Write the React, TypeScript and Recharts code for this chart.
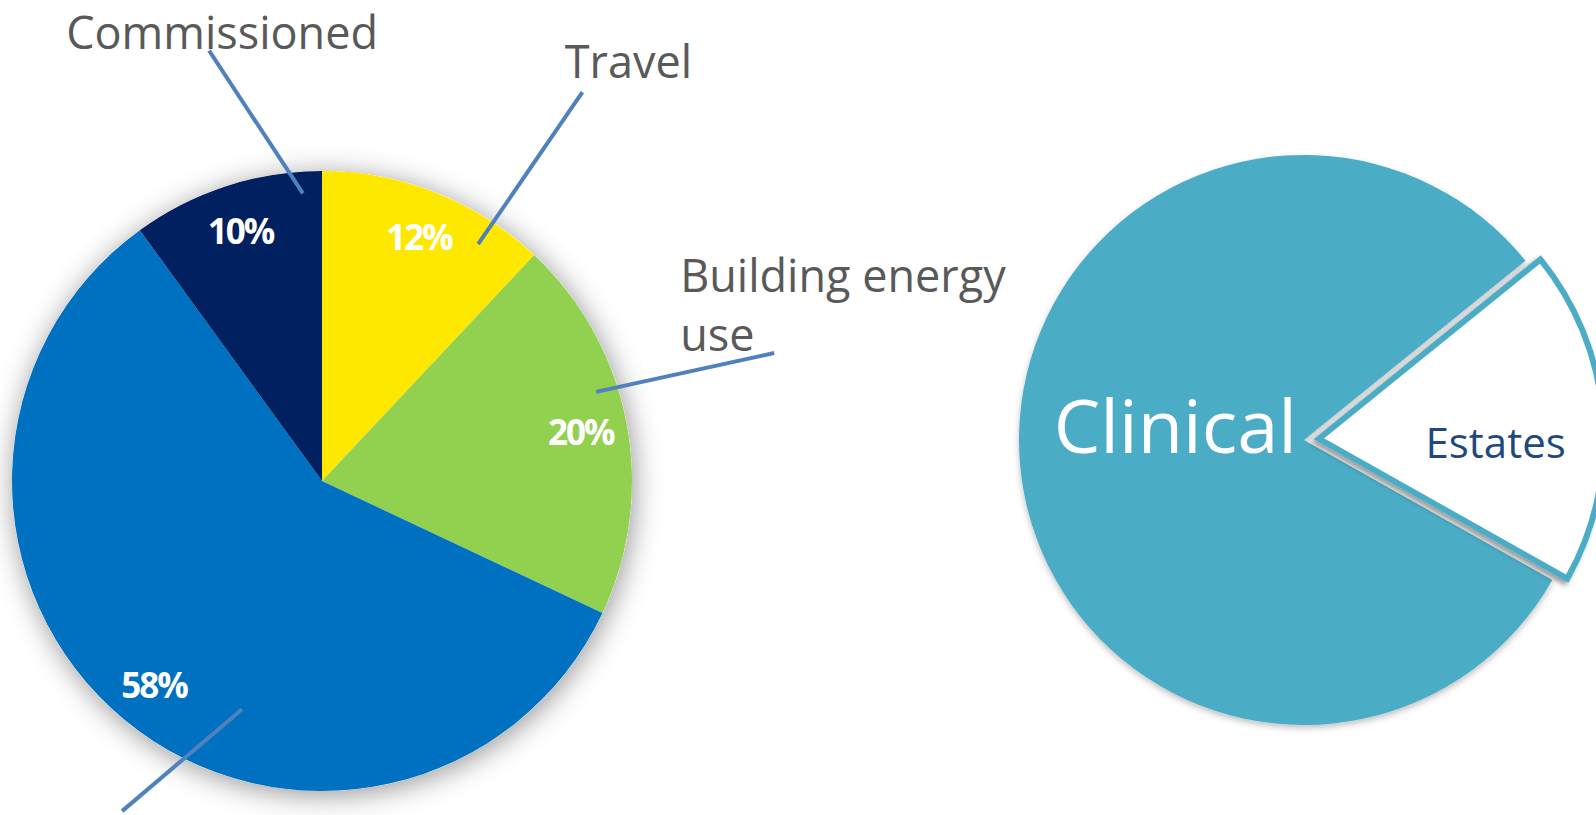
import React from 'react';
import { PieChart, Pie, Cell } from 'recharts';

// Carbon footprint split (left pie), clockwise from 12 o'clock
const footprintCategories = ['Travel', 'Building energy use', 'Procurement', 'Commissioned'];
const footprintShares = [12, 20, 58, 10];
const footprintColors = ['#FFE800', '#92D050', '#0070C0', '#002060'];

// Organisation split (right pie)
const orgCategories = ['Clinical', 'Estates'];
const orgShares = [81, 19];

const W = 1596;
const H = 815;
const LEFT = { cx: 322, cy: 481, r: 310 };
const RIGHT = { cx: 1304, cy: 440, r: 285 };
const EXPLODE = 15; // px the Estates slice is pulled out
const RAD = Math.PI / 180;

const TEXT_FONT = "'Open Sans', 'Noto Sans', sans-serif";
const CALLOUT_COLOR = '#4F81BD';
const CALLOUT_TEXT = '#595959';
const TEAL = '#4BACC6';

// callout layout: line from/to as [angle clockwise from top, fraction of radius]
const callouts: Record<string, any> = {
  Commissioned: { from: [-3.8, 0.93], to: [-14.7, 1.435], lines: ['Commissioned'], dx: 13, dy: -2, anchor: 'middle' },
  Travel: { from: [33.4, 0.915], to: [33.8, 1.51], lines: ['Travel'], dx: 46, dy: -14, anchor: 'middle' },
  'Building energy use': { from: [72, 0.93], to: [74.2, 1.516], lines: ['Building energy', 'use'], dx: -94, dy: -61, anchor: 'start' },
  Procurement: { from: [199.3, 0.78], to: [211.2, 1.245], lines: [], dx: 0, dy: 0, anchor: 'start' },
};

const footprintData = footprintCategories.map((name, i) => ({
  name,
  value: footprintShares[i],
  color: footprintColors[i],
}));
const footprintTotal = footprintShares.reduce((s, v) => s + v, 0);
const orgData = orgCategories.map((name, i) => ({ name, value: orgShares[i] }));
const orgTotal = orgShares.reduce((s, v) => s + v, 0);

const polar = (cx: number, cy: number, r: number, a: number) => ({
  x: cx + r * Math.sin(a * RAD),
  y: cy - r * Math.cos(a * RAD),
});

const renderFootprintLabel = (props: any) => {
  const { cx, cy, midAngle, outerRadius, value, index } = props;
  const name = footprintCategories[index];
  const r = outerRadius * 0.85;
  const x = cx + r * Math.cos(-midAngle * RAD);
  const y = cy + r * Math.sin(-midAngle * RAD);
  const c = callouts[name];
  const p1 = polar(cx, cy, outerRadius * c.from[1], c.from[0]);
  const p2 = polar(cx, cy, outerRadius * c.to[1], c.to[0]);
  return (
    <g key={`fl-${index}`}>
      <text
        x={x}
        y={y}
        fill="#fff"
        textAnchor="middle"
        dominantBaseline="central"
        fontFamily={TEXT_FONT}
        fontWeight={700}
        fontSize={35}
        letterSpacing={-2}
      >
        {value}%
      </text>
      <line x1={p1.x} y1={p1.y} x2={p2.x} y2={p2.y} stroke={CALLOUT_COLOR} strokeWidth={4} />
      {c.lines.map((line: string, li: number) => (
        <text
          key={li}
          x={p2.x + c.dx}
          y={p2.y + c.dy + li * 59}
          fill={CALLOUT_TEXT}
          textAnchor={c.anchor}
          fontFamily={TEXT_FONT}
          fontSize={45}
        >
          {line}
        </text>
      ))}
    </g>
  );
};

const renderClinicalLabel = (props: any) => {
  const { cx, cy, index } = props;
  if (orgCategories[index] !== 'Clinical') return null;
  return (
    <text x={cx - 7} y={cy + 13} fill="#fff" textAnchor="end" fontFamily={TEXT_FONT} fontSize={74}>
      {orgCategories[index]}
    </text>
  );
};

const renderEstatesLabel = (props: any) => {
  const { cx, cy, outerRadius, index } = props;
  if (orgCategories[index] !== 'Estates') return null;
  return (
    <text x={cx + outerRadius * 0.62} y={cy + 19} fill="#1F497D" textAnchor="middle" fontFamily={TEXT_FONT} fontSize={42}>
      {orgCategories[index]}
    </text>
  );
};

export default function App() {
  // bisector of the Estates slice, used for the explode offset
  const estStart = 39;
  const estMid = estStart - (orgShares[1] / orgTotal) * 180;
  const exCx = RIGHT.cx + EXPLODE * Math.cos(estMid * RAD);
  const exCy = RIGHT.cy - EXPLODE * Math.sin(estMid * RAD);

  return (
    <div style={{ position: 'absolute', left: 0, top: 0, width: W, height: H, background: '#fff', overflow: 'hidden' }}>
      <PieChart width={W} height={H} margin={{ top: 0, right: 0, bottom: 0, left: 0 }}>
        <defs>
          <filter id="leftShadow" x="-25%" y="-25%" width="150%" height="150%">
            <feDropShadow dx={2} dy={4} stdDeviation={14} floodColor="#000" floodOpacity={0.42} />
          </filter>
          <filter id="clinicalShadow" x="-10%" y="-10%" width="120%" height="120%">
            <feDropShadow dx={0} dy={3} stdDeviation={3} floodColor="#000" floodOpacity={0.25} />
          </filter>
          <filter id="estatesShadow" x="-20%" y="-20%" width="140%" height="140%">
            <feDropShadow dx={-3} dy={3} stdDeviation={2.5} floodColor="#000" floodOpacity={0.4} />
          </filter>
        </defs>

        {/* soft shadow disc under the footprint pie */}
        <Pie
          data={[{ name: 'total', value: footprintTotal }]}
          dataKey="value"
          cx={LEFT.cx}
          cy={LEFT.cy}
          outerRadius={LEFT.r}
          stroke="none"
          isAnimationActive={false}
        >
          <Cell fill="#fff" filter="url(#leftShadow)" />
        </Pie>

        <Pie
          data={footprintData}
          dataKey="value"
          cx={LEFT.cx}
          cy={LEFT.cy}
          outerRadius={LEFT.r}
          startAngle={90}
          endAngle={-270}
          stroke="none"
          label={renderFootprintLabel}
          labelLine={false}
          isAnimationActive={false}
        >
          {footprintData.map((entry, index) => (
            <Cell key={`fp-${index}`} fill={entry.color} />
          ))}
        </Pie>

        <Pie
          data={orgData}
          dataKey="value"
          cx={RIGHT.cx}
          cy={RIGHT.cy}
          outerRadius={RIGHT.r}
          startAngle={estStart}
          endAngle={estStart + 360}
          stroke="none"
          label={renderClinicalLabel}
          labelLine={false}
          isAnimationActive={false}
        >
          <Cell fill={TEAL} filter="url(#clinicalShadow)" />
          <Cell fill="none" />
        </Pie>

        <Pie
          data={orgData}
          dataKey="value"
          cx={exCx}
          cy={exCy}
          outerRadius={RIGHT.r}
          startAngle={estStart}
          endAngle={estStart + 360}
          label={renderEstatesLabel}
          labelLine={false}
          isAnimationActive={false}
        >
          <Cell fill="none" stroke="none" />
          <Cell fill="#fff" stroke={TEAL} strokeWidth={6} strokeLinejoin="miter" filter="url(#estatesShadow)" />
        </Pie>
      </PieChart>
    </div>
  );
}
